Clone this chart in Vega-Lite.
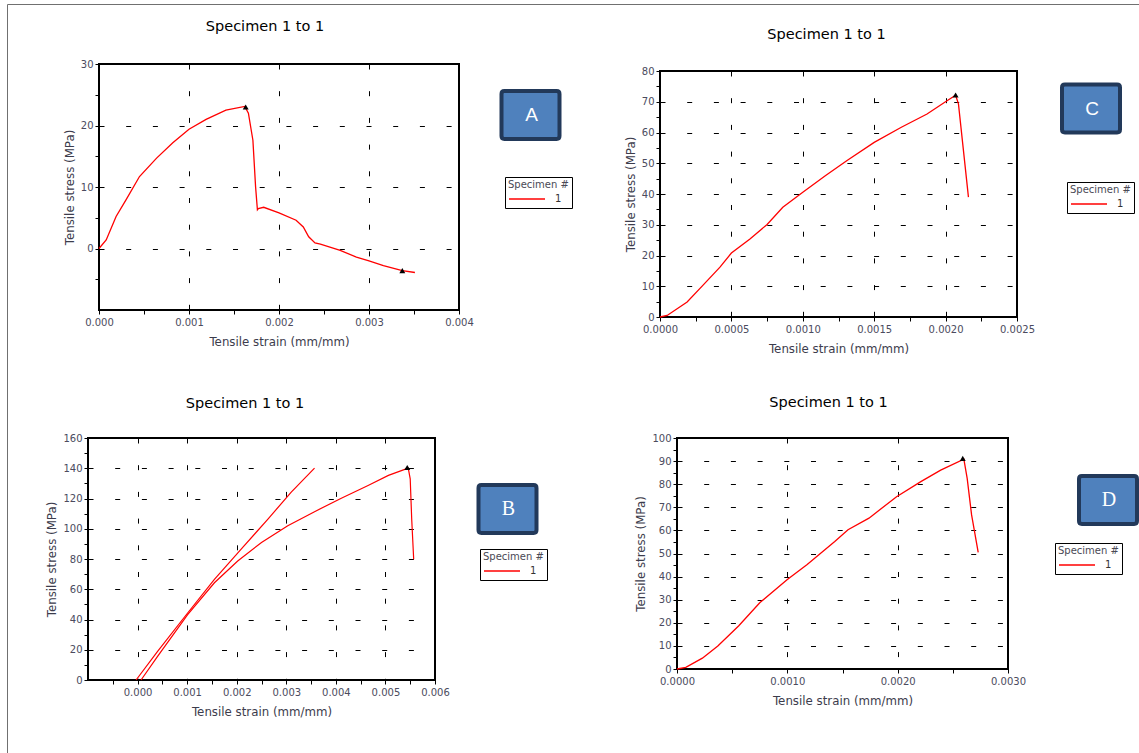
{
  "$schema": "https://vega.github.io/schema/vega-lite/v6.json",
  "autosize": {"type": "none"},
  "padding": {"left": 88, "top": 64, "right": 1051, "bottom": 689},
  "background": "white",
  "bounds": "flush",
  "spacing": 374,
  "resolve": {"scale": {"color": "independent", "fill": "independent", "stroke": "independent"}, "legend": {"color": "independent", "fill": "independent", "stroke": "independent"}},
  "config": {
    "font": "DejaVu Sans",
    "view": {"stroke": "black", "strokeWidth": 2},
    "axis": {
      "labelFont": "DejaVu Sans", "labelFontSize": 10, "labelColor": "#4b4b5e",
      "titleFont": "DejaVu Sans", "titleFontSize": 11.8, "titleFontWeight": "normal", "titleColor": "#3c3c4c",
      "tickColor": "black", "tickWidth": 1, "domain": false, "grid": false,
      "labelOverlap": false, "labelFlush": false, "labelBound": false,
      "gridColor": "black", "gridOpacity": 1, "gridWidth": 1, "gridDash": [5, 21.7]
    },
    "title": {"font": "DejaVu Sans", "fontSize": 14.5, "fontWeight": "normal", "color": "black", "anchor": "middle", "frame": "group"},
    "legend": {
      "titleFont": "DejaVu Sans", "titleFontSize": 10, "titleFontWeight": "normal", "titleColor": "#4a4a55",
      "labelFont": "DejaVu Sans", "labelFontSize": 10, "labelColor": "#333"
    }
  },
  "vconcat": [
    {
      "bounds": "flush",
      "spacing": 0,
      "resolve": {"scale": {"color": "independent", "fill": "independent", "stroke": "independent"}, "legend": {"color": "independent", "fill": "independent", "stroke": "independent"}},
      "hconcat": [
        {
          "width": 11, "height": 1, "view": {"stroke": null},
          "data": {"values": []},
          "mark": {"type": "point", "opacity": 0},
          "encoding": {
            "stroke": {"datum": " ", "type": "nominal", "scale": {"range": ["transparent"]},
              "legend": {"orient": "none", "legendX": -81, "legendY": -60, "title": null, "padding": 600,
                "strokeColor": "#707070", "symbolOpacity": 0, "labelOpacity": 0}}
          }
        },
        {
          "bounds": "flush",
          "spacing": 201,
          "resolve": {"scale": {"color": "independent", "fill": "independent", "stroke": "independent"}, "legend": {"color": "independent", "fill": "independent", "stroke": "independent"}},
          "hconcat": [
            {
              "width": 360, "height": 246,
              "title": {"text": "Specimen 1 to 1", "dx": -14, "offset": 25},
              "resolve": {"axis": {"x": "independent", "y": "independent"}},
              "layer": [
                {
                  "data": {"values": [
                    {"x": 0, "y": 0}, {"x": 0.00008, "y": 1.4}, {"x": 0.00019, "y": 5.2}, {"x": 0.0003, "y": 7.9},
                    {"x": 0.00045, "y": 11.7}, {"x": 0.00064, "y": 14.7}, {"x": 0.00082, "y": 17.2}, {"x": 0.001, "y": 19.4},
                    {"x": 0.00119, "y": 21.0}, {"x": 0.00141, "y": 22.5}, {"x": 0.00162, "y": 23.1}, {"x": 0.00166, "y": 22.0},
                    {"x": 0.00171, "y": 17.6}, {"x": 0.00174, "y": 10.0}, {"x": 0.00176, "y": 6.3}, {"x": 0.00177, "y": 6.5},
                    {"x": 0.00183, "y": 6.7}, {"x": 0.002, "y": 5.8}, {"x": 0.00219, "y": 4.6}, {"x": 0.00227, "y": 3.5},
                    {"x": 0.00233, "y": 1.9}, {"x": 0.0024, "y": 0.9}, {"x": 0.00246, "y": 0.7}, {"x": 0.00268, "y": -0.3},
                    {"x": 0.00286, "y": -1.4}, {"x": 0.003, "y": -2.0}, {"x": 0.00316, "y": -2.8}, {"x": 0.00337, "y": -3.6},
                    {"x": 0.00351, "y": -3.9}
                  ]},
                  "mark": {"type": "line", "strokeWidth": 1.3},
                  "encoding": {
                    "x": {"field": "x", "type": "quantitative", "scale": {"domain": [0, 0.004], "nice": false, "zero": false},
                      "axis": {"orient": "bottom", "values": [0, 0.001, 0.002, 0.003, 0.004], "format": ".3f", "title": "Tensile strain (mm/mm)", "titlePadding": 9, "labelPadding": 3, "tickSize": 4, "grid": true}},
                    "y": {"field": "y", "type": "quantitative", "scale": {"domain": [-10, 30], "nice": false, "zero": false},
                      "axis": {"orient": "left", "values": [0, 10, 20, 30], "title": "Tensile stress (MPa)", "titlePadding": 5, "labelPadding": 2, "tickSize": 4, "grid": true}},
                    "color": {"datum": "1", "type": "nominal", "scale": {"range": ["#ff0000"]},
                      "legend": {"orient": "none", "legendX": 406, "legendY": 113, "title": "Specimen #", "titlePadding": 3, "padding": 3,
                        "strokeColor": "black", "symbolType": "stroke", "symbolSize": 1296, "symbolStrokeWidth": 1.5,
                        "clipHeight": 12, "labelOffset": 9}}
                  }
                },
                {
                  "data": {"values": [{"x": 0.00163, "y": 23.0}, {"x": 0.00337, "y": -3.6}]},
                  "mark": {"type": "point", "shape": "triangle-up", "filled": true, "color": "black", "opacity": 1, "size": 35},
                  "encoding": {
                    "x": {"field": "x", "type": "quantitative", "scale": {"domain": [0, 0.004], "nice": false, "zero": false},
                      "axis": {"orient": "bottom", "values": [0.0005, 0.0015, 0.0025, 0.0035], "labels": false, "title": null, "tickSize": 4}},
                    "y": {"field": "y", "type": "quantitative", "scale": {"domain": [-10, 30], "nice": false, "zero": false},
                      "axis": {"orient": "left", "values": [-5, 5, 15, 25], "labels": false, "title": null, "tickSize": 4}}
                  }
                },
                {
                  "data": {"values": [{}]},
                  "mark": {"type": "square", "opacity": 0},
                  "encoding": {
                    "x": {"datum": 0, "type": "quantitative", "scale": {"domain": [0, 0.004], "nice": false, "zero": false},
                      "axis": {"orient": "top", "values": [0.001, 0.002, 0.003], "labels": false, "title": null, "tickSize": -4}},
                    "y": {"datum": 0, "type": "quantitative", "scale": {"domain": [-10, 30], "nice": false, "zero": false}, "axis": null},
                    "fill": {"datum": "A", "type": "nominal", "scale": {"range": ["#4f81bd"]},
                      "legend": {"orient": "none", "legendX": 400.5, "legendY": 20, "title": null, "padding": 0,
                        "symbolType": "M-0.9,-0.828H0.9Q1,-0.828 1,-0.728V0.728Q1,0.828 0.9,0.828H-0.9Q-1,0.828 -1,0.728V-0.728Q-1,-0.828 -0.9,-0.828Z",
                        "symbolSize": 3364, "symbolStrokeColor": "#22395a", "symbolStrokeWidth": 4, "symbolOpacity": 1, "symbolFillColor": "#4f81bd",
                        "labelColor": "white", "labelFont": "Liberation Sans", "labelFontSize": 19, "labelAlign": "center", "labelBaseline": "middle", "labelOffset": -30}}
                  }
                }
              ]
            },
            {
              "bounds": "flush",
              "spacing": 0,
              "resolve": {"scale": {"color": "independent", "fill": "independent", "stroke": "independent"}, "legend": {"color": "independent", "fill": "independent", "stroke": "independent"}},
              "vconcat": [
                {"width": 1, "height": 7, "view": {"stroke": null}, "data": {"values": []}, "mark": "point", "encoding": {}},
                {
                  "width": 357, "height": 246,
                  "title": {"text": "Specimen 1 to 1", "dx": -12, "offset": 24},
                  "resolve": {"axis": {"x": "independent", "y": "independent"}},
                  "layer": [
                    {
                      "data": {"values": [
                        {"x": 0, "y": 0}, {"x": 0.00005, "y": 0.5}, {"x": 0.00019, "y": 4.9}, {"x": 0.0003, "y": 10.3},
                        {"x": 0.00042, "y": 16.2}, {"x": 0.0005, "y": 20.8}, {"x": 0.00063, "y": 25.4}, {"x": 0.00075, "y": 30.1},
                        {"x": 0.00086, "y": 35.7}, {"x": 0.001, "y": 40.6}, {"x": 0.00116, "y": 46.0}, {"x": 0.00131, "y": 50.9},
                        {"x": 0.0015, "y": 56.8}, {"x": 0.00169, "y": 61.7}, {"x": 0.00187, "y": 66.0}, {"x": 0.00201, "y": 70.3},
                        {"x": 0.00207, "y": 72.1}, {"x": 0.00209, "y": 69.3}, {"x": 0.00212, "y": 56.3}, {"x": 0.00216, "y": 39.0}
                      ]},
                      "mark": {"type": "line", "strokeWidth": 1.3},
                      "encoding": {
                        "x": {"field": "x", "type": "quantitative", "scale": {"domain": [0, 0.0025], "nice": false, "zero": false},
                          "axis": {"orient": "bottom", "values": [0, 0.0005, 0.001, 0.0015, 0.002, 0.0025], "format": ".4f", "title": "Tensile strain (mm/mm)", "titlePadding": 9, "labelPadding": 3, "tickSize": 4, "grid": true}},
                        "y": {"field": "y", "type": "quantitative", "scale": {"domain": [0, 80], "nice": false, "zero": false},
                          "axis": {"orient": "left", "values": [0, 10, 20, 30, 40, 50, 60, 70, 80], "title": "Tensile stress (MPa)", "titlePadding": 5, "labelPadding": 2, "tickSize": 4, "grid": true}},
                        "color": {"datum": "1", "type": "nominal", "scale": {"range": ["#ff0000"]},
                          "legend": {"orient": "none", "legendX": 407, "legendY": 111, "title": "Specimen #", "titlePadding": 3, "padding": 3,
                            "strokeColor": "black", "symbolType": "stroke", "symbolSize": 1296, "symbolStrokeWidth": 1.5,
                            "clipHeight": 12, "labelOffset": 9}}
                      }
                    },
                    {
                      "data": {"values": [{"x": 0.00207, "y": 72.2}]},
                      "mark": {"type": "point", "shape": "triangle-up", "filled": true, "color": "black", "opacity": 1, "size": 35},
                      "encoding": {
                        "x": {"field": "x", "type": "quantitative", "scale": {"domain": [0, 0.0025], "nice": false, "zero": false},
                          "axis": {"orient": "bottom", "values": [0.00025, 0.00075, 0.00125, 0.00175, 0.00225], "labels": false, "title": null, "tickSize": 4}},
                        "y": {"field": "y", "type": "quantitative", "scale": {"domain": [0, 80], "nice": false, "zero": false},
                          "axis": {"orient": "left", "values": [5, 15, 25, 35, 45, 55, 65, 75], "labels": false, "title": null, "tickSize": 4}}
                      }
                    },
                    {
                      "data": {"values": [{}]},
                      "mark": {"type": "square", "opacity": 0},
                      "encoding": {
                        "x": {"datum": 0, "type": "quantitative", "scale": {"domain": [0, 0.0025], "nice": false, "zero": false},
                          "axis": {"orient": "top", "values": [0.0005, 0.001, 0.0015, 0.002], "labels": false, "title": null, "tickSize": -4}},
                        "y": {"datum": 0, "type": "quantitative", "scale": {"domain": [0, 80], "nice": false, "zero": false}, "axis": null},
                        "fill": {"datum": "C", "type": "nominal", "scale": {"range": ["#4f81bd"]},
                          "legend": {"orient": "none", "legendX": 400, "legendY": 6.5, "title": null, "padding": 0,
                            "symbolType": "M-0.9,-0.828H0.9Q1,-0.828 1,-0.728V0.728Q1,0.828 0.9,0.828H-0.9Q-1,0.828 -1,0.728V-0.728Q-1,-0.828 -0.9,-0.828Z",
                            "symbolSize": 3364, "symbolStrokeColor": "#22395a", "symbolStrokeWidth": 4, "symbolOpacity": 1, "symbolFillColor": "#4f81bd",
                            "labelColor": "white", "labelFont": "Liberation Sans", "labelFontSize": 19, "labelAlign": "center", "labelBaseline": "middle", "labelOffset": -30}}
                      }
                    }
                  ]
                }
              ]
            }
          ]
        }
      ]
    },
    {
      "bounds": "flush",
      "spacing": 242,
      "resolve": {"scale": {"color": "independent", "fill": "independent", "stroke": "independent"}, "legend": {"color": "independent", "fill": "independent", "stroke": "independent"}},
      "hconcat": [
        {
          "width": 347, "height": 242,
          "title": {"text": "Specimen 1 to 1", "dx": -16.5, "offset": 22},
          "resolve": {"axis": {"x": "independent", "y": "independent"}},
          "layer": [
            {
              "data": {"values": [
                {"x": -0.00003, "y": 0, "seg": "a"}, {"x": 0.0004, "y": 18.8, "seg": "a"}, {"x": 0.00101, "y": 44.3, "seg": "a"},
                {"x": 0.00155, "y": 66.5, "seg": "a"}, {"x": 0.00209, "y": 86.5, "seg": "a"}, {"x": 0.00263, "y": 106.4, "seg": "a"},
                {"x": 0.0031, "y": 124.2, "seg": "a"}, {"x": 0.00357, "y": 140.1, "seg": "a"},
                {"x": 0.00007, "y": 0, "seg": "b"}, {"x": 0.0004, "y": 15.5, "seg": "b"}, {"x": 0.00101, "y": 43.2, "seg": "b"},
                {"x": 0.00155, "y": 64.3, "seg": "b"}, {"x": 0.00202, "y": 78.7, "seg": "b"}, {"x": 0.0025, "y": 90.9, "seg": "b"},
                {"x": 0.00303, "y": 102.0, "seg": "b"}, {"x": 0.00357, "y": 111.3, "seg": "b"}, {"x": 0.00411, "y": 120.2, "seg": "b"},
                {"x": 0.00465, "y": 128.6, "seg": "b"}, {"x": 0.00506, "y": 135.3, "seg": "b"}, {"x": 0.00546, "y": 140.1, "seg": "b"},
                {"x": 0.0055, "y": 133.0, "seg": "b"}, {"x": 0.00553, "y": 106.4, "seg": "b"}, {"x": 0.00557, "y": 79.8, "seg": "b"}
              ]},
              "mark": {"type": "line", "strokeWidth": 1.2},
              "encoding": {
                "x": {"field": "x", "type": "quantitative", "scale": {"domain": [-0.001, 0.006], "nice": false, "zero": false},
                  "axis": {"orient": "bottom", "values": [0, 0.001, 0.002, 0.003, 0.004, 0.005, 0.006], "format": ".3f", "title": "Tensile strain (mm/mm)", "titlePadding": 9, "labelPadding": 3, "tickSize": 4, "grid": true}},
                "y": {"field": "y", "type": "quantitative", "scale": {"domain": [0, 160], "nice": false, "zero": false},
                  "axis": {"orient": "left", "values": [0, 20, 40, 60, 80, 100, 120, 140, 160], "title": "Tensile stress (MPa)", "titlePadding": 5, "labelPadding": 2, "tickSize": 4, "grid": true}},
                "detail": {"field": "seg", "type": "nominal"},
                "color": {"datum": "1", "type": "nominal", "scale": {"range": ["#ff0000"]},
                  "legend": {"orient": "none", "legendX": 392, "legendY": 111, "title": "Specimen #", "titlePadding": 3, "padding": 3,
                    "strokeColor": "black", "symbolType": "stroke", "symbolSize": 1296, "symbolStrokeWidth": 1.5,
                    "clipHeight": 12, "labelOffset": 9}}
              }
            },
            {
              "data": {"values": [{"x": 0.00544, "y": 140.5}]},
              "mark": {"type": "point", "shape": "triangle-up", "filled": true, "color": "black", "opacity": 1, "size": 35},
              "encoding": {
                "x": {"field": "x", "type": "quantitative", "scale": {"domain": [-0.001, 0.006], "nice": false, "zero": false},
                  "axis": {"orient": "bottom", "values": [-0.0005, 0.0005, 0.0015, 0.0025, 0.0035, 0.0045, 0.0055], "labels": false, "title": null, "tickSize": 4}},
                "y": {"field": "y", "type": "quantitative", "scale": {"domain": [0, 160], "nice": false, "zero": false},
                  "axis": {"orient": "left", "values": [10, 30, 50, 70, 90, 110, 130, 150], "labels": false, "title": null, "tickSize": 4}}
              }
            },
            {
              "data": {"values": [{}]},
              "mark": {"type": "square", "opacity": 0},
              "encoding": {
                "x": {"datum": 0, "type": "quantitative", "scale": {"domain": [-0.001, 0.006], "nice": false, "zero": false},
                  "axis": {"orient": "top", "values": [0, 0.001, 0.002, 0.003, 0.004, 0.005], "labels": false, "title": null, "tickSize": -4}},
                "y": {"datum": 0, "type": "quantitative", "scale": {"domain": [0, 160], "nice": false, "zero": false}, "axis": null},
                "fill": {"datum": "B", "type": "nominal", "scale": {"range": ["#4f81bd"]},
                  "legend": {"orient": "none", "legendX": 388.5, "legendY": 40, "title": null, "padding": 0,
                    "symbolType": "M-0.9,-0.828H0.9Q1,-0.828 1,-0.728V0.728Q1,0.828 0.9,0.828H-0.9Q-1,0.828 -1,0.728V-0.728Q-1,-0.828 -0.9,-0.828Z",
                    "symbolSize": 3364, "symbolStrokeColor": "#22395a", "symbolStrokeWidth": 4, "symbolOpacity": 1, "symbolFillColor": "#4f81bd",
                    "labelColor": "white", "labelFont": "Liberation Serif", "labelFontSize": 20, "labelAlign": "center", "labelBaseline": "middle", "labelOffset": -30}}
              }
            }
          ]
        },
        {
          "width": 331, "height": 231,
          "title": {"text": "Specimen 1 to 1", "dx": -14, "offset": 23},
          "resolve": {"axis": {"x": "independent", "y": "independent"}},
          "layer": [
            {
              "data": {"values": [
                {"x": 0, "y": 0}, {"x": 0.00008, "y": 0.7}, {"x": 0.00023, "y": 4.7}, {"x": 0.00037, "y": 10.0},
                {"x": 0.00056, "y": 18.7}, {"x": 0.00075, "y": 28.7}, {"x": 0.001, "y": 38.7}, {"x": 0.00118, "y": 45.2},
                {"x": 0.00143, "y": 55.2}, {"x": 0.00155, "y": 60.3}, {"x": 0.00174, "y": 65.3}, {"x": 0.00199, "y": 74.6},
                {"x": 0.00221, "y": 81.1}, {"x": 0.00239, "y": 86.1}, {"x": 0.0026, "y": 90.8}, {"x": 0.00263, "y": 82.5},
                {"x": 0.00267, "y": 66.7}, {"x": 0.00273, "y": 50.5}
              ]},
              "mark": {"type": "line", "strokeWidth": 1.3},
              "encoding": {
                "x": {"field": "x", "type": "quantitative", "scale": {"domain": [0, 0.003], "nice": false, "zero": false},
                  "axis": {"orient": "bottom", "values": [0, 0.001, 0.002, 0.003], "format": ".4f", "title": "Tensile strain (mm/mm)", "titlePadding": 9, "labelPadding": 3, "tickSize": 4, "grid": true}},
                "y": {"field": "y", "type": "quantitative", "scale": {"domain": [0, 100], "nice": false, "zero": false},
                  "axis": {"orient": "left", "values": [0, 10, 20, 30, 40, 50, 60, 70, 80, 90, 100], "title": "Tensile stress (MPa)", "titlePadding": 5, "labelPadding": 2, "tickSize": 4, "grid": true}},
                "color": {"datum": "1", "type": "nominal", "scale": {"range": ["#ff0000"]},
                  "legend": {"orient": "none", "legendX": 378, "legendY": 105, "title": "Specimen #", "titlePadding": 3, "padding": 3,
                    "strokeColor": "black", "symbolType": "stroke", "symbolSize": 1296, "symbolStrokeWidth": 1.5,
                    "clipHeight": 12, "labelOffset": 9}}
              }
            },
            {
              "data": {"values": [{"x": 0.00259, "y": 91.2}]},
              "mark": {"type": "point", "shape": "triangle-up", "filled": true, "color": "black", "opacity": 1, "size": 35},
              "encoding": {
                "x": {"field": "x", "type": "quantitative", "scale": {"domain": [0, 0.003], "nice": false, "zero": false},
                  "axis": {"orient": "bottom", "values": [0.0005, 0.0015, 0.0025], "labels": false, "title": null, "tickSize": 4}},
                "y": {"field": "y", "type": "quantitative", "scale": {"domain": [0, 100], "nice": false, "zero": false},
                  "axis": {"orient": "left", "values": [5, 15, 25, 35, 45, 55, 65, 75, 85, 95], "labels": false, "title": null, "tickSize": 4}}
              }
            },
            {
              "data": {"values": [{}]},
              "mark": {"type": "square", "opacity": 0},
              "encoding": {
                "x": {"datum": 0, "type": "quantitative", "scale": {"domain": [0, 0.003], "nice": false, "zero": false},
                  "axis": {"orient": "top", "values": [0.001, 0.002], "labels": false, "title": null, "tickSize": -4}},
                "y": {"datum": 0, "type": "quantitative", "scale": {"domain": [0, 100], "nice": false, "zero": false}, "axis": null},
                "fill": {"datum": "D", "type": "nominal", "scale": {"range": ["#4f81bd"]},
                  "legend": {"orient": "none", "legendX": 400, "legendY": 31, "title": null, "padding": 0,
                    "symbolType": "M-0.9,-0.828H0.9Q1,-0.828 1,-0.728V0.728Q1,0.828 0.9,0.828H-0.9Q-1,0.828 -1,0.728V-0.728Q-1,-0.828 -0.9,-0.828Z",
                    "symbolSize": 3364, "symbolStrokeColor": "#22395a", "symbolStrokeWidth": 4, "symbolOpacity": 1, "symbolFillColor": "#4f81bd",
                    "labelColor": "white", "labelFont": "Liberation Serif", "labelFontSize": 20, "labelAlign": "center", "labelBaseline": "middle", "labelOffset": -30}}
              }
            }
          ]
        }
      ]
    }
  ]
}
